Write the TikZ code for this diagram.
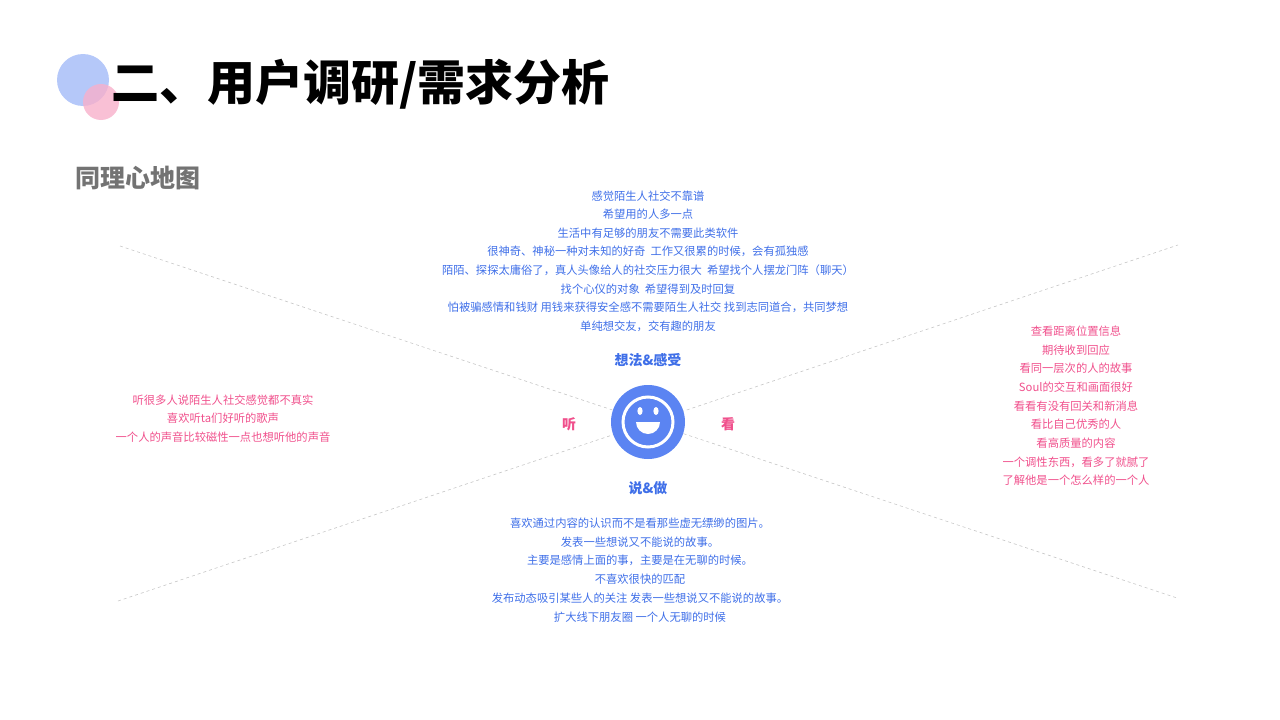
\documentclass[tikz,border=0pt]{standalone}
\usepackage{fontspec}
\setmainfont{Noto Sans CJK SC}
\definecolor{tblue}{HTML}{3F6FE8}
\definecolor{tpink}{HTML}{F0508C}
\definecolor{cblue}{HTML}{5B84F2}
\begin{document}
\begin{tikzpicture}[x=1pt,y=-1pt,
  item/.style={font=\fontsize{11.3}{11.3}\selectfont, inner sep=0pt},
  lab/.style={font=\fontsize{14}{14}\selectfont\bfseries, inner sep=0pt},
  axis/.style={gray!45, dashed, line width=0.6pt}]
\useasboundingbox (0,0) rectangle (1280,720);
\fill[cblue!45] (83,80) circle (26);
\fill[tpink!45, opacity=0.8] (101,102) circle (18);
\node[anchor=west, font=\fontsize{48}{48}\selectfont\bfseries, inner sep=0pt] (title) at (111,84) {二、用户调研/需求分析};
\node[anchor=west, font=\fontsize{25}{25}\selectfont\bfseries, text=gray!90!black, inner sep=0pt] (sub) at (75,178) {同理心地图};
\coordinate (a1) at (120,246); \coordinate (a2) at (1177,598);
\coordinate (b1) at (118,601); \coordinate (b2) at (1178,245);
\draw[axis] (a1) -- (a2);
\draw[axis] (b1) -- (b2);
\fill[cblue] (648,422) circle (37);
\draw[white, line width=3pt] (648,422) circle (25);
\fill[white] (640,411) ellipse (2.6 and 4);
\fill[white] (656,411) ellipse (2.6 and 4);
\fill[white] (636,422) arc[start angle=180,end angle=0,radius=12] -- cycle;
\node[lab, text=tblue] (think) at (648,360) {想法\&感受};
\node[lab, text=tblue] (do) at (648,488) {说\&做};
\node[lab, text=tpink] (hear) at (569,424) {听};
\node[lab, text=tpink] (see) at (728,424) {看};
\foreach \t [count=\i] in {感觉陌生人社交不靠谱,希望用的人多一点,生活中有足够的朋友不需要此类软件,很神奇、神秘一种对未知的好奇 \ 工作又很累的时候，会有孤独感,陌陌、探探太庸俗了，真人头像给人的社交压力很大 \ 希望找个人摆龙门阵（聊天）,找个心仪的对象 \ 希望得到及时回复,怕被骗感情和钱财 用钱来获得安全感不需要陌生人社交 找到志同道合，共同梦想,单纯想交友，交有趣的朋友}
  \node[item, text=tblue] (t\i) at (648,{177.4+18.6*\i}) {\t};
\foreach \t [count=\i] in {查看距离位置信息,期待收到回应,看同一层次的人的故事,Soul的交互和画面很好,看看有没有回关和新消息,看比自己优秀的人,看高质量的内容,一个调性东西，看多了就腻了,了解他是一个怎么样的一个人}
  \node[item, text=tpink] (r\i) at (1076,{312.3+18.7*\i}) {\t};
\foreach \t [count=\i] in {喜欢通过内容的认识而不是看那些虚无缥缈的图片。,发表一些想说又不能说的故事。,主要是感情上面的事，主要是在无聊的时候。,不喜欢很快的匹配,发布动态吸引某些人的关注 发表一些想说又不能说的故事。,扩大线下朋友圈 一个人无聊的时候}
  \node[item, text=tblue] (d\i) at (640,{504.2+18.8*\i}) {\t};
\foreach \t [count=\i] in {听很多人说陌生人社交感觉都不真实,喜欢听ta们好听的歌声,一个人的声音比较磁性一点也想听他的声音}
  \node[item, text=tpink] (l\i) at (223,{381.3+18.5*\i}) {\t};
\end{tikzpicture}
\end{document}
